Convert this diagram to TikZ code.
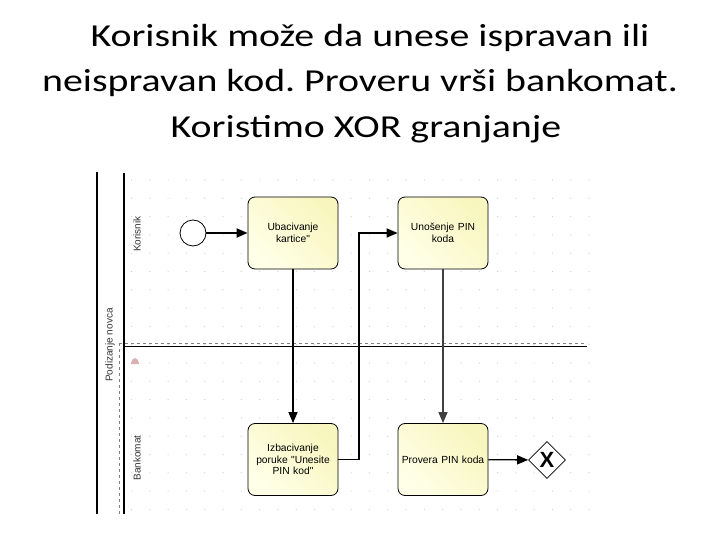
\documentclass[tikz,border=0pt]{standalone}
\usepackage{fontspec}
\setmainfont{Carlito}
\newfontfamily\diagfont{Liberation Sans}
\usetikzlibrary{arrows.meta,shapes.geometric,calc}
\definecolor{taskA}{RGB}{255,255,232}
\definecolor{taskB}{RGB}{248,246,190}
\definecolor{dotc}{RGB}{205,205,205}
\tikzset{
  task/.style={draw=black, line width=0.8pt, rounded corners=7pt, minimum width=90pt, minimum height=72pt,
    left color=taskA, right color=taskB, shading angle=135, align=center, text width=88pt,
    font=\diagfont\fontsize{10.3}{11.5}\selectfont, inner sep=1pt},
  flow/.style={line width=1.3pt, -{Triangle[length=11pt,width=9pt]}},
  lanelabel/.style={rotate=90, font=\diagfont\fontsize{10}{12}\selectfont, text=black!80},
  titletext/.style={font=\fontsize{32}{45}\selectfont, anchor=base}
}
\newcommand{\wide}[1]{\scalebox{1.245}[1]{#1}}
\frenchspacing
\begin{document}
\begin{tikzpicture}[x=1pt,y=-1pt]
\useasboundingbox (0,0) rectangle (720,540);
\fill[white] (0,0) rectangle (720,540);
% title
\node[titletext] (t1) at (370,47) {\wide{Korisnik može da unese ispravan ili}};
\node[titletext] (t2) at (360,92) {\wide{neispravan kod. Proveru vrši bankomat.}};
\node[titletext] (t3) at (366,138) {\wide{Koristimo XOR granjanje}};
% dot grid
\foreach \i in {0,...,25} {
  \foreach \j in {0,...,18} {
    \fill[dotc] (131.5+18.3*\i,180+18.3*\j) circle (0.6);
  }
}
% pool and lanes
\draw[line width=1.3pt] (97,172) -- (97,514);
\draw[line width=1.1pt] (124,173) -- (124,514);
\draw[line width=1pt] (124,346) -- (587,346);
\draw[dashed, gray, line width=0.6pt] (119,343) -- (587,343);
\draw[dashed, gray, line width=0.6pt] (119,343) -- (119,514);
\node[lanelabel] (pool) at (110,345) {Podizanje novca};
\node[lanelabel] (lk) at (137,234) {Korisnik};
\node[lanelabel] (lb) at (137,458) {Bankomat};
\fill[red!35!gray!45] (131,364) .. controls (132,356) and (138,356) .. (139,364) -- cycle;
% nodes
\node[draw=black, circle, line width=0.8pt, minimum size=26pt, inner sep=0pt, fill=white] (start) at (193,233) {};
\node[task] (ub) at (293,233) {Ubacivanje\\kartice"};
\node[task] (un) at (443,233) {Unošenje PIN\\koda};
\node[task] (iz) at (293,459.5) {Izbacivanje\\poruke "Unesite\\PIN kod"};
\node[task] (pr) at (443,459.5) {Provera PIN koda};
\node[diamond, draw=black, line width=0.8pt, minimum width=37pt, minimum height=37pt, inner sep=0pt, fill=white,
  font=\diagfont\bfseries\fontsize{22}{22}\selectfont] (gw) at (547,460) {X};
% connectors
\draw[flow, line width=2pt] (start) -- (ub);
\draw[flow] (ub) -- (iz);
\coordinate (c1) at (359,459.5);
\coordinate (c2) at (359,233);
\draw[flow, line width=1.6pt] (iz) -- (c1) -- (c2) -- (un);
\draw[flow, draw=black!75] (un) -- (pr);
\draw[flow] (pr) -- (gw);
\end{tikzpicture}
\end{document}
